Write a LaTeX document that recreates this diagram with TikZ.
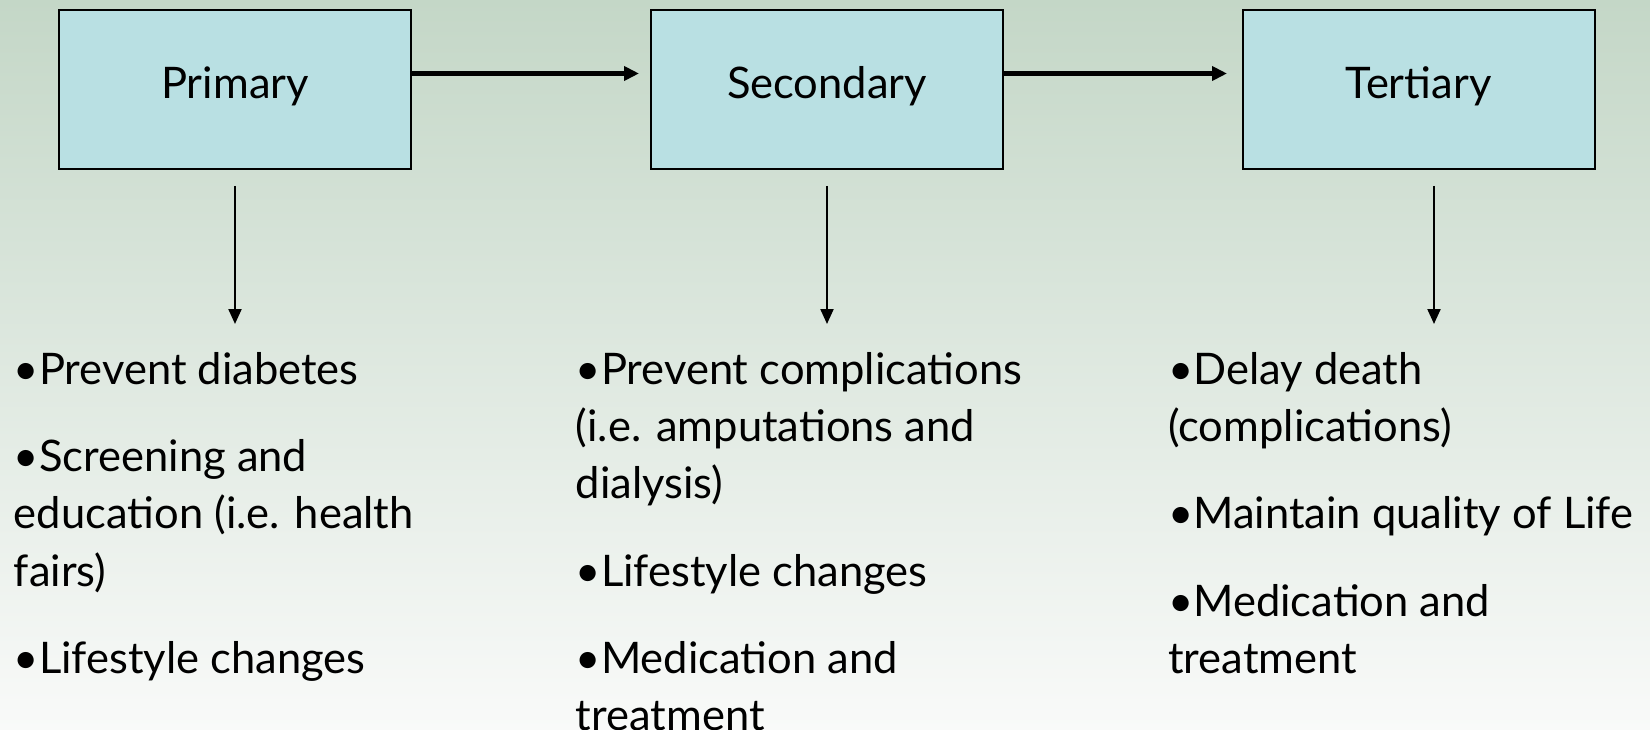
\documentclass[tikz,border=0pt]{standalone}
\usepackage{fontspec}
\setmainfont{Lato}
\usetikzlibrary{arrows.meta}
\definecolor{bgtop}{RGB}{196,215,199}
\definecolor{bgbot}{RGB}{249,250,249}
\definecolor{boxfill}{RGB}{185,224,227}
\tikzset{
  levelbox/.style={draw=black, line width=2pt, fill=boxfill, minimum width=352pt, minimum height=159pt, inner sep=0pt, font=\fontsize{43.5}{50}\selectfont},
  flowarrow/.style={line width=4.5pt, -{Triangle[length=15pt,width=14pt]}},
  downarrow/.style={line width=2.2pt, -{Triangle[length=15pt,width=13pt]}},
  itemtext/.style={anchor=north west, inner sep=0pt, align=left, font=\fontsize{43.5}{57.3}\selectfont}
}
\begin{document}
\begin{tikzpicture}[x=1pt,y=-1pt]
\useasboundingbox (0,0) rectangle (1650,730);
\shade[top color=bgtop, bottom color=bgbot] (0,0) rectangle (1650,730);
\node[levelbox] (P) at (235,90) {\raisebox{15pt}{Primary}};
\node[levelbox] (S) at (827,90) {\raisebox{15pt}{Secondary}};
\node[levelbox] (T) at (1418.5,90) {\raisebox{15pt}{Tertiary}};
\coordinate (Pa) at (639,73.5);
\coordinate (Sa) at (1227,73.5);
\draw[flowarrow] (P.east |- Pa) -- (Pa);
\draw[flowarrow] (S.east |- Sa) -- (Sa);
\coordinate (Ps) at (235,186);
\coordinate (Pe) at (235,324);
\coordinate (Ss) at (827,186);
\coordinate (Se) at (827,324);
\coordinate (Ts) at (1434,186);
\coordinate (Te) at (1434,324);
\draw[downarrow] (Ps) -- (Pe);
\draw[downarrow] (Ss) -- (Se);
\draw[downarrow] (Ts) -- (Te);
\node[itemtext] (L1) at (13.7,344) {\strut •Prevent diabetes\\[30pt]
•Screening and\\ education (i.e. health\\ fairs)\\[30pt]
•Lifestyle changes};
\node[itemtext] (L2) at (575.6,344) {\strut •Prevent complications\\ (i.e. amputations and\\ dialysis)\\[30pt]
•Lifestyle changes\\[30pt]
•Medication and\\ treatment};
\node[itemtext] (L3) at (1168,344) {\strut •Delay death\\ (complications)\\[30pt]
•Maintain quality of Life\\[30pt]
•Medication and\\ treatment};
\end{tikzpicture}
\end{document}
